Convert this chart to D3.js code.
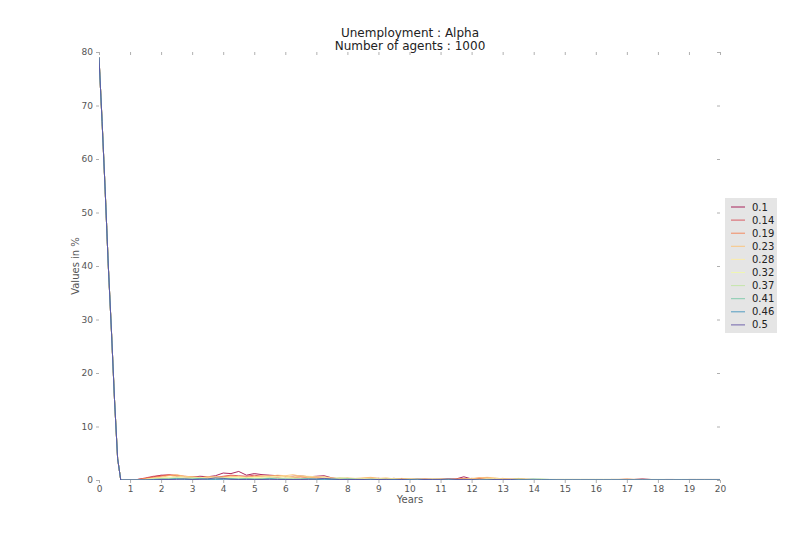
<!DOCTYPE html>
<html>
<head>
<meta charset="utf-8">
<script src="https://cdn.jsdelivr.net/npm/d3@7"></script>
<style>
  body { margin: 0; background: #fff; }
  text { font-family: "DejaVu Sans", sans-serif; }
</style>
</head>
<body>
<div id="chart"></div>
<script>
// legend labels (alpha values)
var seriesNames = ["0.1", "0.14", "0.19", "0.23", "0.28", "0.32", "0.37", "0.41", "0.46", "0.5"];
var seriesColors = ["#9e0142", "#d8434e", "#f67a49", "#fdbf6f", "#feeda1", "#f1f9a9", "#bfe5a0", "#74c7a5", "#378ebb", "#5e4fa2"];

// start of the run, same for every series
var headYears = [0, 0.1, 0.2, 0.3, 0.4, 0.5, 0.6, 0.7];
var headValues = [79, 67, 54, 40, 28, 15, 4, 0];

// after that, every quarter year from 1 to 20
var tailYears = d3.range(1, 20.01, 0.25);

var tail01 = [0,0.1,0.3,0.6, 0.9,0.9,0.7,0.6, 0.5,0.7,0.6,0.8, 1.3,1.2,1.6,0.9, 1.2,1.0,0.9,0.8, 0.6,0.7,0.8,0.6, 0.7,0.8,0.4,0.2, 0.3,0.2,0.1,0.2, 0.3,0.2,0.3,0.2, 0.1,0.2,0.1,0.1, 0.2,0.1,0.2,0.6, 0.2,0.3,0.1,0.2, 0.1,0.1,0.2,0.1, 0.1,0,0,0, 0,0,0,0, 0,0,0.1,0, 0,0.1,0.2,0.1, 0,0,0,0, 0,0,0,0, 0];
var tail014 = [0,0.1,0.4,0.7, 0.8,1.0,0.9,0.7, 0.6,0.5,0.6,0.5, 0.7,0.9,0.8,0.7, 0.9,0.7,0.6,0.5, 0.7,0.5,0.6,0.4, 0.5,0.3,0.2,0.3, 0.2,0.1,0.2,0.1, 0.3,0.2,0.1,0.2, 0.1,0.1,0.2,0.1, 0.1,0.2,0.1,0.2, 0.3,0.2,0.4,0.2, 0.1,0.1,0.1,0, 0.1,0,0,0, 0,0,0,0, 0,0,0,0.1, 0,0.1,0.1,0.1, 0.05,0.1,0.1,0.05, 0.1,0.1,0.1,0.1, 0.1];
var tail019 = [0,0.1,0.3,0.5, 0.7,0.9,0.8,0.6, 0.5,0.4,0.6,0.5, 0.6,0.8,0.6,0.5, 0.7,0.6,0.8,0.7, 0.6,0.5,0.6,0.5, 0.4,0.3,0.2,0.3, 0.2,0.2,0.3,0.4, 0.3,0.2,0.3,0.1, 0.2,0.1,0.1,0.2, 0.1,0.1,0.2,0.3, 0.2,0.4,0.3,0.2, 0.3,0.2,0.1,0.1, 0.1,0.1,0,0, 0,0,0,0, 0,0,0.1,0.1, 0.2,0.1,0.1,0, 0,0,0,0, 0,0,0,0, 0];
var tail023 = [0,0,0.2,0.4, 0.5,0.8,1.0,0.7, 0.6,0.5,0.4,0.6, 0.5,0.6,0.7,0.5, 0.6,0.8,0.7,0.9, 0.8,1.0,0.7,0.6, 0.5,0.6,0.4,0.3, 0.4,0.3,0.4,0.5, 0.3,0.4,0.2,0.3, 0.2,0.1,0.2,0.1, 0.2,0.2,0.1,0.2, 0.3,0.4,0.5,0.4, 0.2,0.1,0.3,0.2, 0.1,0.1,0.1,0.1, 0.1,0.1,0.1,0.1, 0.1,0.1,0.1,0.1, 0.1,0.1,0.1,0.1, 0,0,0,0, 0,0,0,0, 0];
var tail028 = [0,0,0.1,0.3, 0.4,0.5,0.7,0.6, 0.5,0.4,0.6,0.5, 0.4,0.5,0.6,0.4, 0.5,0.6,0.7,0.6, 0.7,0.6,0.8,0.7, 0.6,0.5,0.3,0.4, 0.3,0.2,0.3,0.2, 0.3,0.2,0.2,0.1, 0.2,0.1,0.1,0.1, 0.2,0.1,0.1,0.1, 0.2,0.1,0.2,0.3, 0.2,0.2,0.1,0.1, 0.1,0.1,0,0.1, 0.1,0.1,0.1,0.1, 0.1,0.1,0.1,0.1, 0.1,0.1,0.1,0.1, 0.1,0.1,0,0.1, 0.1,0.1,0.1,0.1, 0.1];
var tail032 = [0,0,0.1,0.2, 0.3,0.4,0.5,0.4, 0.3,0.4,0.3,0.4, 0.3,0.4,0.5,0.4, 0.5,0.4,0.5,0.6, 0.5,0.4,0.3,0.4, 0.3,0.2,0.3,0.2, 0.3,0.2,0.2,0.1, 0.2,0.1,0.2,0.1, 0.1,0.1,0.1,0.2, 0.1,0.1,0.1,0.1, 0.1,0.1,0.2,0.1, 0.1,0.1,0.1,0.1, 0.1,0.1,0.1,0.1, 0.1,0.1,0.1,0.1, 0.1,0.1,0.1,0.1, 0.1,0.1,0.1,0, 0,0,0,0, 0,0,0,0, 0];
var tail037 = [0,0,0.1,0.2, 0.3,0.3,0.4,0.3, 0.4,0.3,0.2,0.3, 0.4,0.3,0.2,0.3, 0.2,0.3,0.4,0.3, 0.2,0.3,0.2,0.3, 0.2,0.3,0.2,0.4, 0.3,0.2,0.1,0.2, 0.1,0.2,0.1,0.1, 0.1,0.2,0.1,0.1, 0.1,0.1,0.1,0.1, 0.1,0.1,0.1,0.1, 0.1,0.1,0.2,0.1, 0.1,0.2,0.1,0.1, 0.1,0.1,0.1,0.1, 0.1,0.1,0.1,0.1, 0.1,0.1,0.1,0.1, 0.1,0.1,0.1,0.1, 0.1,0.1,0.1,0.1, 0.1];
var tail041 = [0,0,0,0.1, 0.2,0.2,0.3,0.2, 0.2,0.3,0.2,0.2, 0.3,0.2,0.2,0.3, 0.2,0.2,0.3,0.2, 0.2,0.1,0.2,0.2, 0.1,0.2,0.1,0.1, 0.2,0.1,0.1,0.1, 0.1,0.1,0.1,0.1, 0.1,0.1,0.1,0.1, 0.1,0.1,0.1,0, 0.1,0,0.1,0.1, 0,0.1,0.1,0.1, 0.2,0.1,0.1,0, 0,0,0,0, 0,0,0,0, 0,0,0,0, 0,0,0,0, 0,0,0,0, 0];
var tail046 = [0,0,0,0.1, 0.1,0.1,0.2,0.1, 0.1,0.2,0.1,0.1, 0.1,0.2,0.1,0.1, 0.1,0.1,0.2,0.1, 0.1,0.1,0.1,0.2, 0.1,0.1,0.1,0.1, 0.1,0.1,0.1,0.1, 0.1,0,0.1,0.1, 0.1,0,0.1,0, 0,0,0,0, 0,0,0,0, 0,0,0,0, 0,0,0,0, 0,0,0,0, 0,0,0,0, 0,0,0,0, 0,0,0,0, 0,0,0,0, 0];
var tail05 = [0,0,0,0, 0.1,0.1,0.1,0.2, 0.1,0.1,0.2,0.4, 0.3,0.1,0.1,0.1, 0.1,0.1,0.1,0.1, 0.1,0.1,0.1,0.1, 0.2,0.3,0.2,0.1, 0.1,0.1,0.1,0, 0.1,0.1,0,0.1, 0,0,0.1,0.1, 0.1,0.2,0.1,0.1, 0.1,0,0,0.1, 0.1,0.1,0,0, 0,0,0,0, 0,0,0,0, 0,0,0,0, 0,0,0,0, 0,0,0,0, 0,0,0,0, 0];

var tails = [tail01, tail014, tail019, tail023, tail028, tail032, tail037, tail041, tail046, tail05];

var xTicks = d3.range(0, 21, 1);
var yTicks = [0, 10, 20, 30, 40, 50, 60, 70, 80];

var width = 800, height = 533;
var plotLeft = 99, plotRight = 720, plotTop = 52, plotBottom = 480;

var svg = d3.select("#chart").append("svg")
    .attr("width", width)
    .attr("height", height);

var xScale = d3.scaleLinear().domain([0, 20]).range([plotLeft, plotRight]);
var yScale = d3.scaleLinear().domain([0, 80]).range([plotBottom, plotTop]);

svg.append("defs").append("clipPath").attr("id", "plotclip")
    .append("rect")
    .attr("x", plotLeft).attr("y", plotTop)
    .attr("width", plotRight - plotLeft).attr("height", plotBottom - plotTop);

// build point lists
var series = seriesNames.map(function (name, i) {
    var pts = headYears.map(function (y, j) { return { year: y, value: headValues[j] }; });
    tailYears.forEach(function (y, j) {
        pts.push({ year: y, value: tails[i][j] });
    });
    return { name: name, color: seriesColors[i], points: pts };
});

var line = d3.line()
    .x(d => xScale(d.year))
    .y(d => yScale(d.value));

svg.append("g").attr("clip-path", "url(#plotclip)")
    .selectAll("path").data(series)
    .enter().append("path")
    .attr("d", d => line(d.points))
    .attr("fill", "none")
    .attr("stroke", d => d.color)
    .attr("stroke-opacity", 0.85)
    .attr("stroke-width", 1);

// axes, no spines, light ticks all round
function styleAxis(g) {
    g.select(".domain").remove();
    g.selectAll(".tick line").attr("stroke", "#b0b0b0");
    g.selectAll(".tick text").attr("fill", "#555").style("font-size", "9px")
        .style("font-family", "DejaVu Sans, sans-serif");
}

svg.append("g").attr("transform", "translate(0," + plotBottom + ")")
    .call(d3.axisBottom(xScale).tickValues(xTicks).tickSize(3).tickPadding(3).tickFormat(d3.format("d")))
    .call(styleAxis);
svg.append("g").attr("transform", "translate(0," + plotTop + ")")
    .call(d3.axisTop(xScale).tickValues(xTicks).tickSize(-3).tickFormat(""))
    .call(styleAxis);
svg.append("g").attr("transform", "translate(" + plotLeft + ",0)")
    .call(d3.axisLeft(yScale).tickValues(yTicks).tickSize(3).tickPadding(3).tickFormat(d3.format("d")))
    .call(styleAxis);
svg.append("g").attr("transform", "translate(" + plotRight + ",0)")
    .call(d3.axisRight(yScale).tickValues(yTicks).tickSize(-3).tickFormat(""))
    .call(styleAxis);

// titles
svg.append("text").attr("x", 410).attr("y", 37).attr("text-anchor", "middle")
    .style("font-size", "12px").attr("fill", "#222").text("Unemployment : Alpha");
svg.append("text").attr("x", 410).attr("y", 50).attr("text-anchor", "middle")
    .style("font-size", "12px").attr("fill", "#222").text("Number of agents : 1000");

svg.append("text").attr("x", 410).attr("y", 503).attr("text-anchor", "middle")
    .style("font-size", "10px").attr("fill", "#555").text("Years");
svg.append("text").attr("transform", "translate(79," + ((plotTop + plotBottom) / 2) + ") rotate(-90)")
    .attr("text-anchor", "middle")
    .style("font-size", "10px").attr("fill", "#555").text("Values in %");

// legend
var legend = svg.append("g").attr("transform", "translate(725,198)");
legend.append("rect").attr("width", 52).attr("height", 135).attr("fill", "#e5e5e5");
var rows = legend.selectAll("g.row").data(series).enter().append("g")
    .attr("class", "row")
    .attr("transform", (d, i) => "translate(0," + (9 + i * 13.1) + ")");
rows.append("line").attr("x1", 6).attr("x2", 20)
    .attr("stroke", d => d.color).attr("stroke-opacity", 0.85).attr("stroke-width", 1);
rows.append("text").attr("x", 27).attr("y", 3.5)
    .style("font-size", "10px").attr("fill", "#222").text(d => d.name);
</script>
</body>
</html>
